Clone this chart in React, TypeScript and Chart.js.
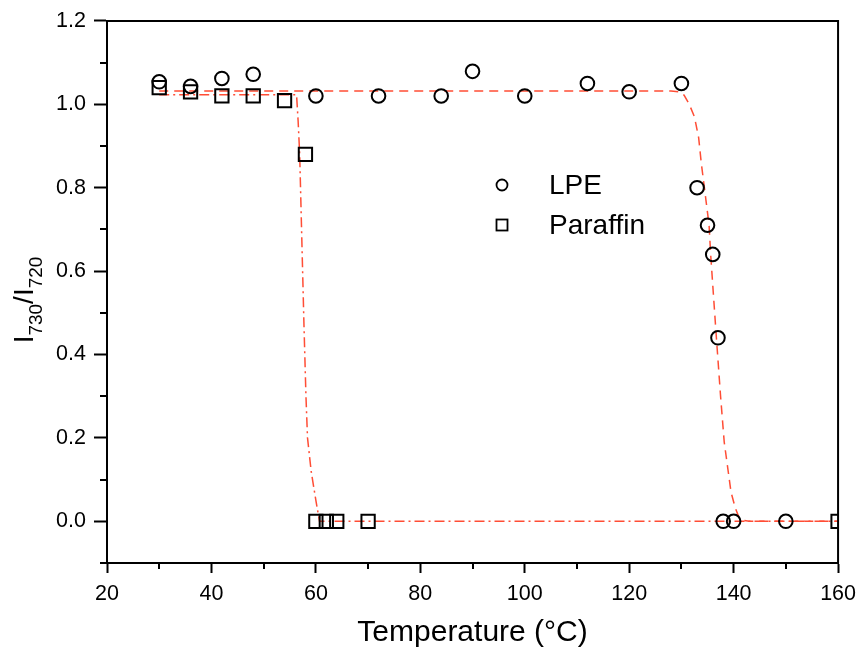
import React, { useEffect, useRef } from 'react';
import { Chart, registerables } from 'chart.js';

Chart.register(...registerables);

// ---- data ----
const lpeTemp = [30, 36, 42, 48, 60, 72, 84, 90, 100, 112, 120, 130, 133, 135, 136, 137, 138, 140, 150];
const lpeRatio = [1.054, 1.043, 1.062, 1.072, 1.02, 1.02, 1.02, 1.079, 1.02, 1.05, 1.03, 1.05, 0.80, 0.71, 0.64, 0.44, 0, 0, 0];

const paraffinTemp = [30, 36, 42, 48, 54, 58, 60, 62, 64, 70, 160];
const paraffinRatio = [1.04, 1.03, 1.02, 1.02, 1.009, 0.88, 0, 0, 0, 0, 0];

// fitted curves
const lpeFitTemp = [30, 128, 129.5, 130.5, 131.5, 132.5, 133.3, 133.8, 134.4, 135.3, 135.6, 136.7, 137.5, 138.2, 139.5, 140.3, 141, 142, 143, 160];
const lpeFitRatio = [1.032, 1.032, 1.03, 1.022, 1.0, 0.97, 0.92, 0.86, 0.80, 0.71, 0.64, 0.44, 0.30, 0.19, 0.07, 0.033, 0.01, 0.002, 0, 0];

const paraffinFitTemp = [30, 56.3, 56.6, 56.9, 57.3, 57.7, 58.1, 58.4, 59.1, 60.0, 60.7, 160];
const paraffinFitRatio = [1.023, 1.023, 0.96, 0.88, 0.68, 0.48, 0.30, 0.20, 0.12, 0.05, 0, 0];

const xTickValues = [20, 40, 60, 80, 100, 120, 140, 160];
const xMinorValues = [30, 50, 70, 90, 110, 130, 150];
const yTickValues = [0.0, 0.2, 0.4, 0.6, 0.8, 1.0, 1.2];
const yMinorValues = [-0.1, 0.1, 0.3, 0.5, 0.7, 0.9, 1.1];

const seriesLabels = ['LPE', 'Paraffin'];
const xTitle = 'Temperature (°C)';
const yTitleParts = ['I', '730', '/I', '720'];

const FIT_COLOR = '#FF4D35';
const FONT = '"Liberation Sans", Arial, sans-serif';

const framePlugin = {
  id: 'frame',
  afterDraw(chart: any) {
    const ctx = chart.ctx;
    const { left, right, top, bottom } = chart.chartArea;
    const xs = chart.scales.x;
    const ys = chart.scales.y;
    ctx.save();
    ctx.strokeStyle = '#000';
    ctx.lineWidth = 2;
    // top & right frame
    ctx.beginPath();
    ctx.moveTo(left, top);
    ctx.lineTo(right, top);
    ctx.lineTo(right, bottom);
    ctx.stroke();
    // minor ticks
    ctx.beginPath();
    xMinorValues.forEach((v) => {
      const px = Math.round(xs.getPixelForValue(v));
      ctx.moveTo(px, bottom);
      ctx.lineTo(px, bottom + 6);
    });
    yMinorValues.forEach((v) => {
      const py = Math.round(ys.getPixelForValue(v));
      ctx.moveTo(left, py);
      ctx.lineTo(left - 7, py);
    });
    ctx.stroke();

    // legend
    const lx = 502;
    const ly = [185, 225];
    ctx.lineWidth = 1.8;
    ctx.beginPath();
    ctx.arc(lx, ly[0], 5.5, 0, Math.PI * 2);
    ctx.stroke();
    ctx.strokeRect(lx - 5.5, ly[1] - 5.5, 11, 11);
    ctx.fillStyle = '#000';
    ctx.font = `28px ${FONT}`;
    ctx.textBaseline = 'middle';
    ctx.textAlign = 'left';
    ctx.fillText(seriesLabels[0], 549, ly[0] + 1);
    ctx.fillText(seriesLabels[1], 549, ly[1] + 1);

    // y title with subscripts
    const big = `28px ${FONT}`;
    const small = `19px ${FONT}`;
    const widths: number[] = yTitleParts.map((t, i) => {
      ctx.font = i % 2 === 0 ? big : small;
      return ctx.measureText(t).width;
    });
    const total = widths.reduce((a, b) => a + b, 0);
    ctx.translate(33, 300);
    ctx.rotate(-Math.PI / 2);
    ctx.textBaseline = 'alphabetic';
    let cx = -total / 2;
    yTitleParts.forEach((t, i) => {
      ctx.font = i % 2 === 0 ? big : small;
      ctx.fillText(t, cx, i % 2 === 0 ? 0 : 9);
      cx += widths[i];
    });
    ctx.restore();
  },
};

export default function App() {
  const ref = useRef<HTMLCanvasElement | null>(null);

  useEffect(() => {
    if (!ref.current) return;
    const toPts = (xs: number[], ys: number[]) => xs.map((x, i) => ({ x, y: ys[i] }));
    const chart = new Chart(ref.current, {
      type: 'scatter',
      data: {
        datasets: [
          {
            label: seriesLabels[0],
            data: toPts(lpeTemp, lpeRatio),
            pointStyle: 'circle',
            pointRadius: 6.8,
            borderColor: '#000',
            backgroundColor: 'transparent',
            borderWidth: 2,
            showLine: false,
          },
          {
            label: seriesLabels[1],
            data: toPts(paraffinTemp, paraffinRatio),
            pointStyle: 'rect',
            pointRadius: 9.4,
            borderColor: '#000',
            backgroundColor: 'transparent',
            borderWidth: 2,
            showLine: false,
          },
          {
            label: 'LPE fit',
            data: toPts(lpeFitTemp, lpeFitRatio),
            showLine: true,
            pointRadius: 0,
            borderColor: FIT_COLOR,
            borderWidth: 1.5,
            borderDash: [9, 6],
            fill: false,
          },
          {
            label: 'Paraffin fit',
            data: toPts(paraffinFitTemp, paraffinFitRatio),
            showLine: true,
            pointRadius: 0,
            borderColor: FIT_COLOR,
            borderWidth: 1.5,
            borderDash: [10, 4, 2, 4],
            fill: false,
          },
        ],
      },
      options: {
        animation: false,
        responsive: false,
        maintainAspectRatio: false,
        layout: { padding: { left: 0, right: 25, top: 19, bottom: 0 } },
        plugins: {
          legend: { display: false },
          tooltip: { enabled: false },
        },
        scales: {
          x: {
            type: 'linear',
            min: 20,
            max: 160,
            afterBuildTicks: (s: any) => {
              s.ticks = xTickValues.map((v) => ({ value: v }));
            },
            afterFit: (s: any) => {
              s.height = 93;
            },
            ticks: {
              color: '#000',
              font: { family: FONT, size: 21.5 },
              padding: 8,
              maxRotation: 0,
              autoSkip: false,
            },
            grid: {
              drawOnChartArea: false,
              tickLength: 10,
              tickColor: '#000',
              tickWidth: 2,
            },
            border: { color: '#000', width: 2 },
            title: {
              display: true,
              text: xTitle,
              color: '#000',
              font: { family: FONT, size: 30 },
              padding: { top: 4, bottom: 5 },
            },
          },
          y: {
            type: 'linear',
            min: -0.1,
            max: 1.2,
            afterBuildTicks: (s: any) => {
              s.ticks = yTickValues.map((v) => ({ value: v }));
            },
            afterFit: (s: any) => {
              s.width = 107;
            },
            ticks: {
              color: '#000',
              font: { family: FONT, size: 21.5 },
              padding: 8,
              autoSkip: false,
              callback: (v: any) => Number(v).toFixed(1),
            },
            grid: {
              drawOnChartArea: false,
              tickLength: 13,
              tickColor: '#000',
              tickWidth: 2,
            },
            border: { color: '#000', width: 2 },
          },
        },
      },
      plugins: [framePlugin],
    });
    return () => chart.destroy();
  }, []);

  return (
    <div style={{ position: 'fixed', left: 0, top: 0, width: 864, height: 656, background: '#fff' }}>
      <canvas ref={ref} width={864} height={656} style={{ width: 864, height: 656, display: 'block' }} />
    </div>
  );
}
